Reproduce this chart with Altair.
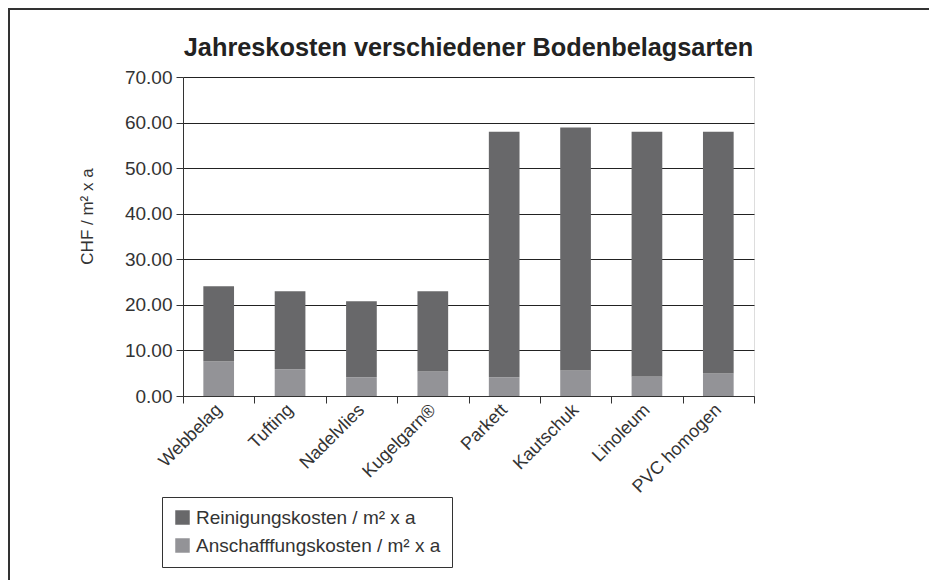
import altair as alt
import pandas as pd

categories = ["Webbelag", "Tufting", "Nadelvlies", "Kugelgarn®", "Parkett",
              "Kautschuk", "Linoleum", "PVC homogen"]
anschaffung = [7.6, 5.9, 4.1, 5.4, 4.1, 5.6, 4.3, 5.0]
reinigung = [16.5, 17.1, 16.7, 17.6, 53.9, 53.3, 53.7, 53.0]
series_names = ["Reinigungskosten / m² x a", "Anschafffungskosten / m² x a"]
y_ticks = [0, 10, 20, 30, 40, 50, 60, 70]

rows = []
for c, a, r in zip(categories, anschaffung, reinigung):
    rows.append({"cat": c, "serie": series_names[1], "wert": a, "ord": 0})
    rows.append({"cat": c, "serie": series_names[0], "wert": r, "ord": 1})
df = pd.DataFrame(rows)

W, H = 571, 319
FONT = "Liberation Sans"
TXT = "#333333"

bars = alt.Chart(df).mark_bar(width=alt.RelativeBandSize(0.43)).encode(
    x=alt.X("cat:N", sort=categories,
            scale=alt.Scale(paddingInner=0, paddingOuter=0),
            axis=alt.Axis(title=None, labelAngle=-45, labelAlign="right",
                          labelBaseline="middle", labelFontSize=18,
                          labelPadding=4, labelColor=TXT, labelFont=FONT,
                          tickBand="extent", tickSize=7, tickColor="#333",
                          domainColor="#333", labelLimit=300)),
    y=alt.Y("wert:Q", stack="zero",
            scale=alt.Scale(domain=[0, 70], nice=False),
            axis=alt.Axis(title="CHF / m² x a", values=y_ticks, format=".2f",
                          labelFontSize=19, labelColor=TXT, labelFont=FONT,
                          labelPadding=4, tickSize=7, tickColor="#333",
                          domainColor="#333", grid=True, gridColor="#222",
                          titleFontSize=17, titleFont=FONT, titleColor=TXT,
                          titleFontWeight="normal", titleAngle=270,
                          titleX=-96, titleY=139, titleAlign="center",
                          titleBaseline="middle")),
    color=alt.Color("serie:N",
                    scale=alt.Scale(domain=series_names,
                                    range=["#68686a", "#939397"]),
                    legend=alt.Legend(title=None, orient="none",
                                      legendX=-21, legendY=420,
                                      strokeColor="#333", fillColor="white",
                                      padding=11, symbolType="square",
                                      symbolSize=210, symbolStrokeWidth=0,
                                      labelFontSize=19, labelFont=FONT,
                                      labelColor=TXT, rowPadding=8,
                                      labelLimit=400)),
    order=alt.Order("ord:Q"),
)

frame_left = alt.Chart(df).mark_rule(color="#333", strokeWidth=1.5).encode(
    x=alt.value(-174.25), y=alt.value(-69), y2=alt.value(700))
frame_top = alt.Chart(df).mark_rule(color="#333", strokeWidth=1.5).encode(
    x=alt.value(-175), x2=alt.value(900), y=alt.value(-68.25))

chart = alt.layer(bars, frame_left, frame_top).properties(
    width=W, height=H,
    title=alt.TitleParams("Jahreskosten verschiedener Bodenbelagsarten",
                          font=FONT, fontSize=25.3, fontWeight="bold",
                          color="#222", anchor="middle", frame="group",
                          baseline="alphabetic", offset=-74),
    autosize=alt.AutoSizeParams(type="none"),
    padding={"left": 175, "top": 69, "right": 175, "bottom": 184},
).configure_view(stroke="#333", strokeWidth=1).configure(background="white")

chart.save("out.html", embed_options={"renderer": "svg", "actions": False})
